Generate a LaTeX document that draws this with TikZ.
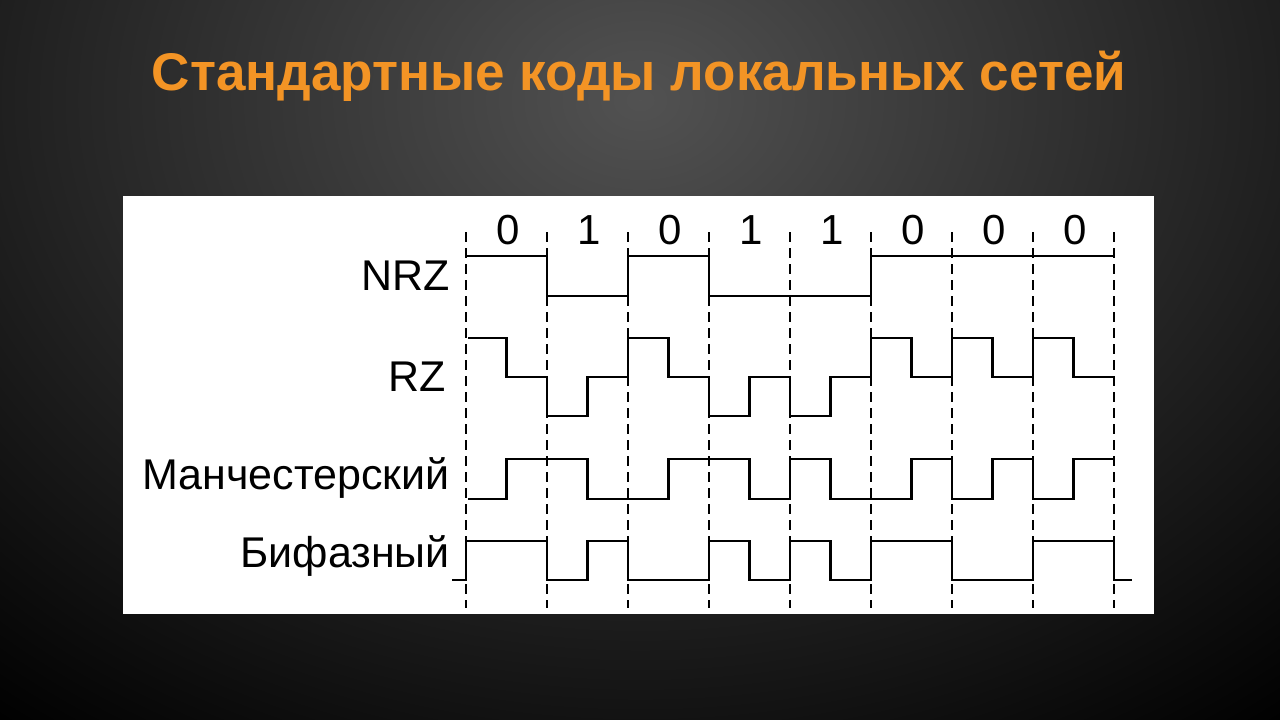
\documentclass[tikz,border=0pt]{standalone}
\usepackage{fontspec}
\setmainfont{Liberation Sans}
\definecolor{ttl}{HTML}{F39425}
\begin{document}
\begin{tikzpicture}[x=1pt,y=-1pt,
  wave/.style={line width=2.8pt,line join=miter},
  grid/.style={line width=1.6pt,dash pattern=on 10pt off 6pt},
  lbl/.style={anchor=east,inner sep=0pt,font=\fontsize{43}{43}\selectfont},
  bit/.style={inner sep=0pt,font=\fontsize{42}{42}\selectfont}]
\useasboundingbox (0,0) rectangle (1280,720);
\fill[black] (0,0) rectangle (1280,720);
\shade[inner color=black!68, outer color=black] (-400,-700) rectangle (1680,900);
\node (title)[inner sep=0pt,font=\bfseries\fontsize{53}{53}\selectfont,text=ttl] at (639,76) {Стандартные коды локальных сетей};
\fill[white] (123,196) rectangle (1154,614);
\foreach \i in {0,...,8} \draw[grid] (466+81*\i,232) -- (466+81*\i,608);
\foreach \b [count=\i from 0] in {0,1,0,1,1,0,0,0}
  \node[bit] (b\i) at (508+81*\i,230) {\b};
\node[lbl] (lnrz) at (450,276) {NRZ};
\node[lbl] (lrz) at (446,377) {RZ};
\node[lbl] (lman) at (450,478) {Манчестерский};
\node[lbl] (lbi) at (450,556) {Бифазный};
% NRZ
\draw[wave] (466,256) -- (547,256) -- (547,296) -- (628,296) -- (628,256) -- (709,256) -- (709,296) -- (871,296) -- (871,256) -- (1114,256);
% RZ
\draw[wave] (468,338) -- (506.5,338) -- (506.5,377) -- (547,377) -- (547,416) -- (587.5,416) -- (587.5,377) -- (628,377)
 -- (628,338) -- (668.5,338) -- (668.5,377) -- (709,377) -- (709,416) -- (749.5,416) -- (749.5,377) -- (790,377)
 -- (790,416) -- (830.5,416) -- (830.5,377) -- (871,377)
 -- (871,338) -- (911.5,338) -- (911.5,377) -- (952,377) -- (952,338) -- (992.5,338) -- (992.5,377) -- (1033,377)
 -- (1033,338) -- (1073.5,338) -- (1073.5,377) -- (1114,377);
% Manchester
\draw[wave] (468,499) -- (506.5,499) -- (506.5,459) -- (587.5,459) -- (587.5,499) -- (668.5,499) -- (668.5,459) -- (749.5,459)
 -- (749.5,499) -- (790,499) -- (790,459) -- (830.5,459) -- (830.5,499) -- (911.5,499) -- (911.5,459) -- (952,459)
 -- (952,499) -- (992.5,499) -- (992.5,459) -- (1033,459) -- (1033,499) -- (1073.5,499) -- (1073.5,459) -- (1114,459);
% Biphase
\draw[wave] (452,580) -- (466,580) -- (466,541) -- (547,541) -- (547,580) -- (587.5,580) -- (587.5,541) -- (628,541)
 -- (628,580) -- (709,580) -- (709,541) -- (749.5,541) -- (749.5,580) -- (790,580) -- (790,541) -- (830.5,541)
 -- (830.5,580) -- (871,580) -- (871,541) -- (952,541) -- (952,580) -- (1033,580) -- (1033,541) -- (1114,541)
 -- (1114,580) -- (1132,580);
\end{tikzpicture}
\end{document}
